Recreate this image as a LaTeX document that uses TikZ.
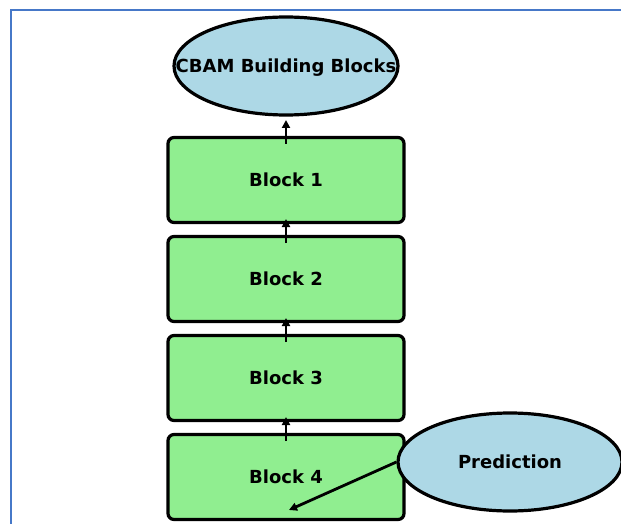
\documentclass[tikz,border=0pt]{standalone}
\usepackage{fontspec}
\setmainfont{DejaVu Sans}
\usetikzlibrary{shapes.geometric,arrows.meta}
\definecolor{lblue}{RGB}{173,216,230}
\definecolor{lgreen}{RGB}{144,238,144}
\definecolor{frameblue}{RGB}{70,120,200}
\begin{document}
\begin{tikzpicture}[x=1pt,y=-1pt,
  blockbox/.style={draw=black,line width=3.2pt,fill=lgreen,rounded corners=6pt,minimum width=236pt,minimum height=85pt,inner sep=0pt,font=\bfseries\fontsize{18}{20}\selectfont},
  ovalbox/.style={ellipse,draw=black,line width=3.2pt,fill=lblue,minimum width=224pt,minimum height=98pt,inner xsep=-40pt,inner ysep=0pt,text height=13pt,text depth=0pt,font=\bfseries\fontsize{18}{20}\selectfont},
  arr/.style={-{Triangle[length=8pt,width=8pt]},line width=2.8pt}]
\useasboundingbox (0,0) rectangle (621,524);
\draw[frameblue,line width=2pt] (10.5,524) -- (10.5,10.5) -- (621,10.5);
\node[ovalbox] (top) at (286,66) {CBAM Building Blocks};
\node[blockbox] (b1) at (286,180) {Block 1};
\node[blockbox] (b2) at (286,279) {Block 2};
\node[blockbox] (b3) at (286,378) {Block 3};
\node[blockbox] (b4) at (286,477) {Block 4};
\node[ovalbox] (pred) at (510,462) {Prediction};
\coordinate (t1) at (286,120);
\coordinate (s1) at (286,144);
\coordinate (t2) at (286,219);
\coordinate (s2) at (286,243);
\coordinate (t3) at (286,318);
\coordinate (s3) at (286,342);
\coordinate (t4) at (286,417);
\coordinate (s4) at (286,441);
\coordinate (pe) at (289,510);
\draw[arr] (s1) -- (t1);
\draw[arr] (s2) -- (t2);
\draw[arr] (s3) -- (t3);
\draw[arr] (s4) -- (t4);
\draw[arr] (pred.west) -- (pe);
\end{tikzpicture}
\end{document}
